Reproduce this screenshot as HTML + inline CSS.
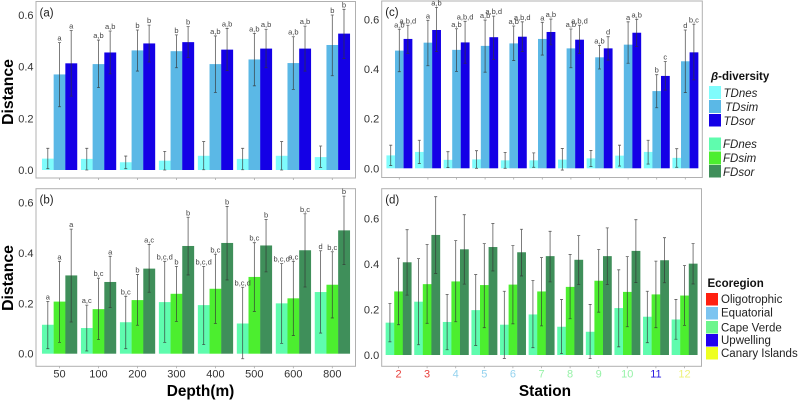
<!DOCTYPE html>
<html>
<head>
<meta charset="utf-8">
<style>
html,body{margin:0;padding:0;background:#fff;}
svg{display:block;font-family:"Liberation Sans",sans-serif;}
</style>
</head>
<body>
<svg id="chart" width="800" height="400" viewBox="0 0 800 400" xmlns="http://www.w3.org/2000/svg">
<rect x="0" y="0" width="800" height="400" fill="#fff"/>
<g id="panels"></g>
<text transform="translate(13,92) rotate(-90)" text-anchor="middle" font-size="15.8" font-weight="bold" fill="#000">Distance</text>
<text transform="translate(13,278) rotate(-90)" text-anchor="middle" font-size="15.8" font-weight="bold" fill="#000">Distance</text>
<text x="200.5" y="396" text-anchor="middle" font-size="15.4" font-weight="bold" fill="#000">Depth(m)</text>
<text x="545" y="396" text-anchor="middle" font-size="15.4" font-weight="bold" fill="#000">Station</text>

<g>
<text x="711" y="80" font-size="11.5" font-weight="bold" fill="#111"><tspan font-style="italic">β</tspan>-diversity</text>
<rect x="709" y="86" width="12" height="13" fill="#7ffcfc"/>
<rect x="709" y="100" width="12" height="13" fill="#5bb8e6"/>
<rect x="709" y="114" width="12" height="12.5" fill="#1400e6"/>
<rect x="709" y="137.5" width="12" height="13" fill="#5ffcae"/>
<rect x="709" y="151.5" width="12" height="13" fill="#4cee2f"/>
<rect x="709" y="165" width="12" height="12.5" fill="#3f8f5a"/>
<g font-size="11.5" font-style="italic" fill="#222">
<text x="723.5" y="97">TDnes</text>
<text x="725" y="111">TDsim</text>
<text x="723.5" y="125">TDsor</text>
<text x="723" y="148">FDnes</text>
<text x="723" y="162">FDsim</text>
<text x="723" y="176">FDsor</text>
</g>
</g>

<g>
<text x="707.5" y="287" font-size="11.5" font-weight="bold" fill="#111">Ecoregion</text>
<rect x="706" y="293" width="12" height="12.5" fill="#ff2010"/>
<rect x="706" y="307" width="12" height="12.5" fill="#7cc4f0"/>
<rect x="706" y="321" width="12" height="12.5" fill="#6cf58c"/>
<rect x="706" y="334" width="12" height="12.5" fill="#2200f0"/>
<rect x="706" y="347" width="12" height="12.5" fill="#eeff20"/>
<g font-size="11.5" fill="#222">
<text x="721" y="303">Oligotrophic</text>
<text x="721" y="316.5">Equatorial</text>
<text x="721" y="331.5">Cape Verde</text>
<text x="721" y="344">Upwelling</text>
<text x="721" y="357">Canary Islands</text>
</g>
</g>
</svg>

<script>
// ---------- categories and ticks ----------
const depths = ['50','100','200','300','400','500','600','800'];
const stations = ['2','3','4','5','6','7','8','9','10','11','12'];
const ecoregionOfStation = ['Oligotrophic','Oligotrophic','Equatorial','Equatorial','Equatorial','Cape Verde','Cape Verde','Cape Verde','Cape Verde','Upwelling','Canary Islands'];
const yTicksABC = [0, 0.2, 0.4, 0.6];
const yTicksD = [0, 0.2, 0.4, 0.6];

// ---------- panel (a) ----------
const aNes = [.044,.043,.030,.036,.055,.043,.055,.050];
const aNesLow = [.005,.000,.005,.000,.001,.001,.000,.010];
const aNesHigh = [.084,.084,.054,.072,.110,.084,.110,.093];
const aSim = [.370,.410,.463,.460,.410,.428,.414,.484];
const aSimLow = [.245,.319,.383,.396,.300,.326,.312,.365];
const aSimHigh = [.493,.503,.542,.523,.519,.529,.516,.600];
const aSor = [.413,.455,.490,.495,.466,.470,.470,.528];
const aSorLow = [.286,.372,.418,.436,.385,.396,.383,.432];
const aSorHigh = [.540,.538,.561,.555,.548,.545,.557,.622];
const aSimLabels = ['a','a,b','b','b','a,b','a,b','a,b','b'];
const aSorLabels = ['a','a,b','b','b','a,b','a,b','a,b','b'];

// ---------- panel (b) ----------
const bNes = [.115,.102,.125,.205,.193,.120,.200,.245];
const bNesLow = [.020,.011,.020,.045,.036,-.020,.041,.082];
const bNesHigh = [.208,.193,.228,.367,.347,.264,.358,.409];
const bSim = [.207,.177,.213,.238,.258,.305,.220,.274];
const bSimLow = [.045,.056,.113,.128,.120,.168,.072,.142];
const bSimHigh = [.367,.300,.315,.347,.395,.441,.367,.405];
const bSor = [.311,.285,.338,.428,.440,.430,.411,.490];
const bSorLow = [.126,.183,.244,.313,.293,.325,.265,.354];
const bSorHigh = [.495,.387,.434,.542,.585,.533,.556,.626];
const bNesLabels = ['a','a,c','b,c','b,c,d','b,c,d','b,c,d','b,c,d','d'];
const bSimLabels = ['a','b,c','b','b','b,c','b,c','a,c','b,c'];
const bSorLabels = ['a','a','a,c','b','b','b','b,c','b'];

// ---------- panel (c) ----------
const cNes = [.052,.066,.034,.036,.032,.032,.035,.040,.051,.066,.042];
const cNesLow = [.011,.019,.003,.000,.000,.004,-.007,.007,.009,.017,.004];
const cNesHigh = [.093,.113,.067,.071,.064,.062,.080,.072,.093,.113,.079];
const cSim = [.474,.506,.477,.493,.503,.521,.483,.447,.498,.311,.431];
const cSimLow = [.389,.413,.390,.387,.434,.456,.405,.400,.423,.244,.305];
const cSimHigh = [.560,.596,.562,.597,.573,.588,.561,.495,.590,.377,.557];
const cSor = [.521,.557,.507,.528,.530,.549,.518,.483,.546,.372,.467];
const cSorLow = [.463,.470,.423,.439,.470,.497,.463,.436,.490,.315,.356];
const cSorHigh = [.576,.648,.592,.613,.590,.601,.576,.530,.600,.430,.580];
const cSimLabels = ['a,b','a','a,b','a,b','a,b','a','a,b','a,b','a','b','d'];
const cSorLabels = ['a,b,d','a,b','a,b,d','a,b,d','a,b,d','a,b','a,b,d','d','a,b','c','b,c'];

// ---------- panel (d) ----------
const dNes = [.142,.234,.145,.197,.133,.178,.124,.102,.206,.168,.156];
const dNesLow = [.058,.045,.023,.042,-.015,.032,.006,-.016,.036,.054,.069];
const dNesHigh = [.226,.423,.266,.353,.280,.327,.244,.222,.374,.280,.244];
const dSim = [.279,.311,.323,.307,.309,.279,.299,.326,.277,.266,.261];
const dSimLow = [.133,.139,.146,.120,.137,.128,.159,.188,.124,.120,.130];
const dSimHigh = [.425,.485,.502,.489,.480,.428,.441,.463,.432,.412,.393];
const dSor = [.407,.527,.464,.474,.451,.434,.418,.434,.457,.416,.401];
const dSorLow = [.263,.358,.311,.369,.347,.321,.309,.309,.318,.317,.312];
const dSorHigh = [.550,.695,.616,.577,.552,.543,.524,.558,.594,.515,.489];

// ---------- presentation (no data below) ----------
const NS = 'http://www.w3.org/2000/svg';
const root = document.getElementById('panels');
const TD = ['#7ffcfc','#5bb8e6','#1400e6'];
const FD = ['#5ffcae','#4cee2f','#3f8f5a'];
const ecoColors = {'Oligotrophic':'#e8403c','Equatorial':'#93d2ee','Cape Verde':'#97f2a8','Upwelling':'#2a1ae0','Canary Islands':'#eef27a'};
const seriesNames = ['nes','sim','sor'];

function node(parent, tag, props, txt){
  const n = document.createElementNS(NS, tag);
  for (const k in props) n.setAttribute(k, props[k]);
  if (txt !== undefined) n.textContent = txt;
  parent.appendChild(n);
  return n;
}

function drawPanel(p){
  const g = node(root, 'g', {});
  
  

  const n = p.categories.length;
  const step = (p.lastX - p.firstX) / (n - 1);
  const barW = step * 0.9 / 3;
  const xScale = function(i){ return p.firstX + i * step; };
  const yScale = function(v){ return p.zeroY - v * p.unit; };

  const frame = node(g, 'rect', {x:p.left, y:p.top, width:p.right-p.left, height:p.bottom-p.top, fill:'#fff', stroke:'#b0b0b0', 'stroke-width':1});
  
  

  p.yTicks.forEach(function(t){
    const tl = node(g, 'text', {x:p.left-2.5, y:yScale(t)+4, 'text-anchor':'end', 'font-size':11, fill:'#333'}, t.toFixed(1));
    
    
  });

  p.categories.forEach(function(c, i){
    const tick = node(g, 'line', {x1:xScale(i), x2:xScale(i), y1:p.bottom, y2:p.bottom+2, stroke:'#aaa', 'stroke-width':.8});
    
    
    if (p.showX) {
      const fill = p.catColors ? p.catColors[i] : '#333';
      const tl = node(g, 'text', {x:xScale(i), y:p.bottom+11, 'text-anchor':'middle', 'font-size':11, fill:fill}, c);
      
      
    }
  });

  p.series.forEach(function(s, k){
    s.mean.forEach(function(v, i){
      const bx = xScale(i) + (k - 1.5) * barW;
      const bar = node(g, 'rect', {x:bx, y:yScale(v), width:barW+.2, height:p.zeroY-yScale(v), fill:p.colors[k]});
      
      
    });
  });

  p.series.forEach(function(s, k){
    s.mean.forEach(function(v, i){
      const cx = xScale(i) + (k - 1) * barW;
      const yl = yScale(s.low[i]), yh = yScale(s.high[i]);
      const eb = node(g, 'path', {d:'M'+cx+' '+yl+'V'+yh+'M'+(cx-1.5)+' '+yl+'H'+(cx+1.5)+'M'+(cx-1.5)+' '+yh+'H'+(cx+1.5), fill:'none', stroke:'#333', 'stroke-opacity':.8, 'stroke-width':.8});
      
      
      if (s.labels) {
        const tl = node(g, 'text', {x:cx, y:yh-2, 'text-anchor':'middle', 'font-size':7.5, fill:'#444'}, s.labels[i]);
        
        
      }
    });
  });

  const pl = node(g, 'text', {x:p.left+3.5, y:p.top+15, 'font-size':11.5, fill:'#222'}, '(' + p.id + ')');
  
  
}

drawPanel({id:'a', categories:depths, yTicks:yTicksABC, showX:false, colors:TD,
  left:36, right:355.5, top:1.5, bottom:178, zeroY:170, unit:258.3, firstX:59.5, lastX:332.3,
  series:[{mean:aNes,low:aNesLow,high:aNesHigh},{mean:aSim,low:aSimLow,high:aSimHigh,labels:aSimLabels},{mean:aSor,low:aSorLow,high:aSorHigh,labels:aSorLabels}]});

drawPanel({id:'b', categories:depths, yTicks:yTicksABC, showX:true, colors:FD,
  left:36, right:355.5, top:188.7, bottom:366.3, zeroY:353.7, unit:251.7, firstX:59.5, lastX:332.3,
  series:[{mean:bNes,low:bNesLow,high:bNesHigh,labels:bNesLabels},{mean:bSim,low:bSimLow,high:bSimHigh,labels:bSimLabels},{mean:bSor,low:bSorLow,high:bSorHigh,labels:bSorLabels}]});

drawPanel({id:'c', categories:stations, yTicks:yTicksABC, showX:false, colors:TD,
  left:381.7, right:702.3, top:1, bottom:177.5, zeroY:168.3, unit:248.3, firstX:399.3, lastX:685.3,
  series:[{mean:cNes,low:cNesLow,high:cNesHigh},{mean:cSim,low:cSimLow,high:cSimHigh,labels:cSimLabels},{mean:cSor,low:cSorLow,high:cSorHigh,labels:cSorLabels}]});

drawPanel({id:'d', categories:stations, yTicks:yTicksD, showX:true, colors:FD,
  catColors:ecoregionOfStation.map(function(e){ return ecoColors[e]; }),
  left:381.7, right:701.5, top:188.7, bottom:366.3, zeroY:355, unit:227.8, firstX:398.5, lastX:684.5,
  series:[{mean:dNes,low:dNesLow,high:dNesHigh},{mean:dSim,low:dSimLow,high:dSimHigh},{mean:dSor,low:dSorLow,high:dSorHigh}]});
</script>
</body>
</html>
